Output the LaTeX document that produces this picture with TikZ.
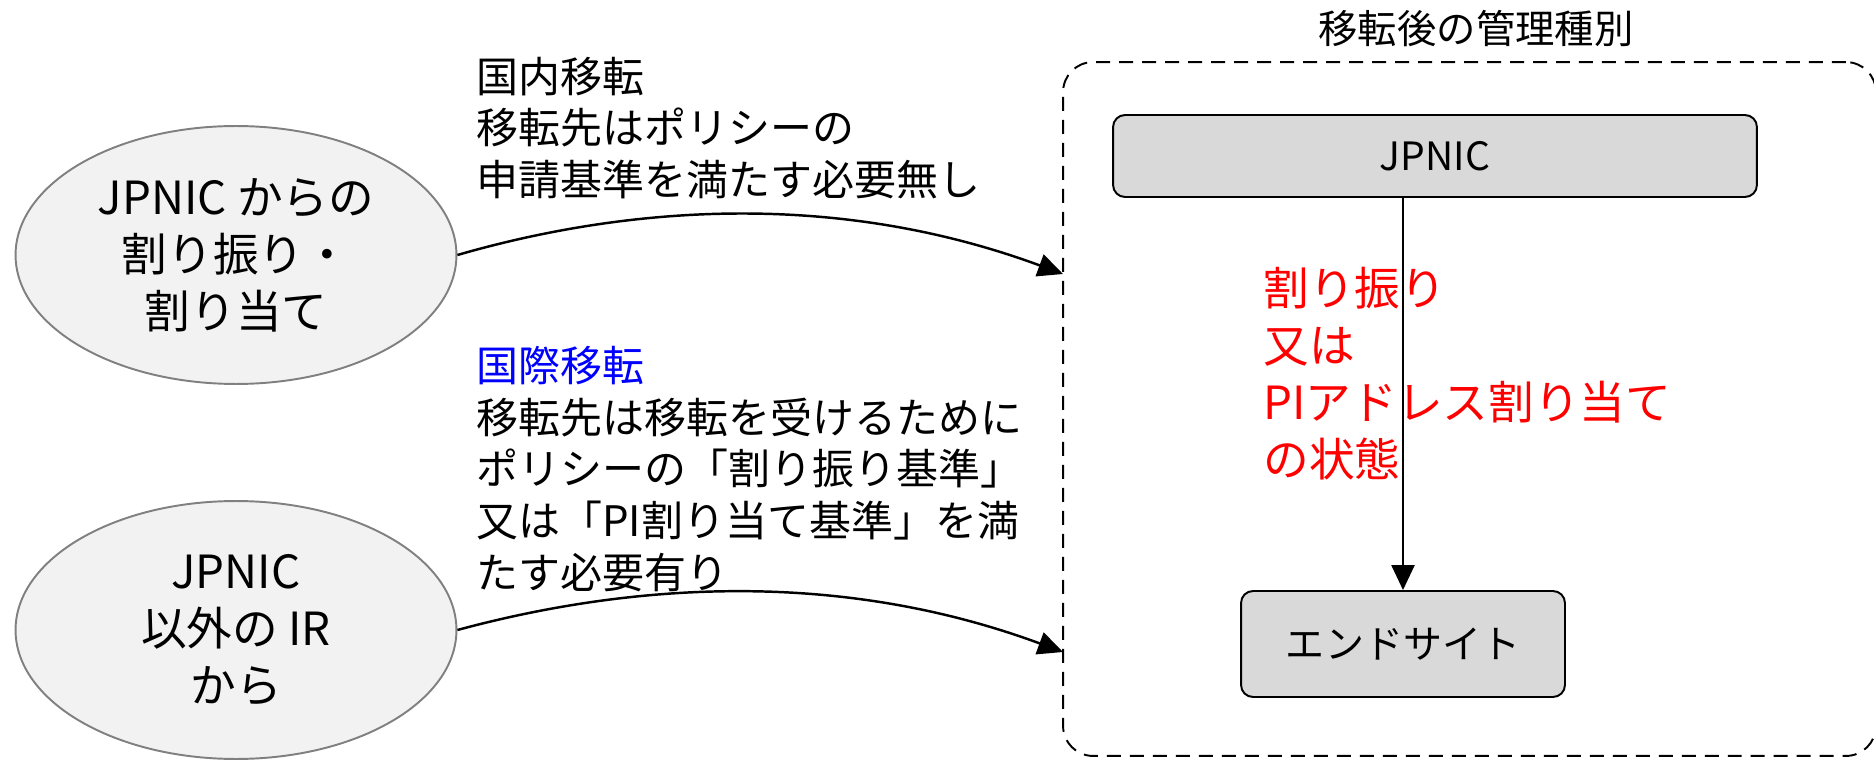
\documentclass[tikz,border=0pt]{standalone}
\usepackage{fontspec}
\setmainfont{Noto Sans CJK JP}
\usetikzlibrary{arrows.meta, positioning, shapes.geometric}
\definecolor{ovalgray}{RGB}{242,242,242}
\definecolor{ovalline}{RGB}{128,128,128}
\definecolor{boxgray}{RGB}{217,217,217}
\definecolor{kokusaiblue}{RGB}{0,0,255}
\definecolor{statered}{RGB}{255,0,0}

\begin{document}
\begin{tikzpicture}[x=0.02cm, y=-0.02cm,
    source/.style={draw=ovalline, line width=1.1pt, fill=ovalgray, ellipse, inner sep=0pt, minimum width=8.82cm, minimum height=5.16cm, align=center, font=\fontsize{26pt}{32.4pt}\selectfont},
    note/.style={anchor=west, inner sep=0pt, align=left, font=\fontsize{23.9pt}{29.4pt}\selectfont},
    kind/.style={draw, line width=1.1pt, fill=boxgray, rounded corners=0.24cm, inner sep=0pt, font=\fontsize{22.2pt}{26pt}\selectfont},
    flow/.style={line width=1.4pt, -{Triangle[length=0.5cm, width=0.46cm]}}]
  \useasboundingbox (0,0) rectangle (1874,760);

  % transfer sources
  \node[source] (jpnic src) at (236,255) {JPNIC からの\\割り振り・\\割り当て};
  \node[source] (other ir) at (236,630) {JPNIC\\以外の IR\\から};

  % conditions
  \node[note] (domestic) at (476,128) {国内移転\\移転先はポリシーの\\申請基準を満たす必要無し};
  \node[note] (intl) at (476,469) {\textcolor{kokusaiblue}{国際移転}\\移転先は移転を受けるために\\ポリシーの「割り振り基準」\\又は「PI割り当て基準」を満\\たす必要有り};

  % management type after transfer
  \node[draw, dashed, dash pattern=on 0.28cm off 0.18cm, line width=1.1pt, rounded corners=0.6cm, minimum width=16.26cm, minimum height=13.88cm, inner sep=0pt] (area) at (1469.5,409) {};
  \node[font=\fontsize{22.4pt}{26pt}\selectfont, inner sep=0pt] (title) at (1476,29) {移転後の管理種別};
  \node[kind, minimum width=12.88cm, minimum height=1.64cm] (jpnic) at (1435,156) {JPNIC};
  \node[kind, minimum width=6.48cm, minimum height=2.12cm] (endsite) at (1403,644) {エンドサイト};
  \node[note, text=statered, font=\fontsize{26pt}{32.4pt}\selectfont] (state) at (1263,374) {割り振り\\又は\\PIアドレス割り当て\\の状態};

  \coordinate (in1) at (1063,274);
  \coordinate (in2) at (1063,652);

  \draw[flow] (jpnic src.east) .. controls (620,208) and (830,188) .. (in1);
  \draw[flow] (other ir.east) .. controls (620,586) and (830,566) .. (in2);
  \draw[flow] (jpnic.south -| endsite.north) -- (endsite.north);
\end{tikzpicture}
\end{document}
